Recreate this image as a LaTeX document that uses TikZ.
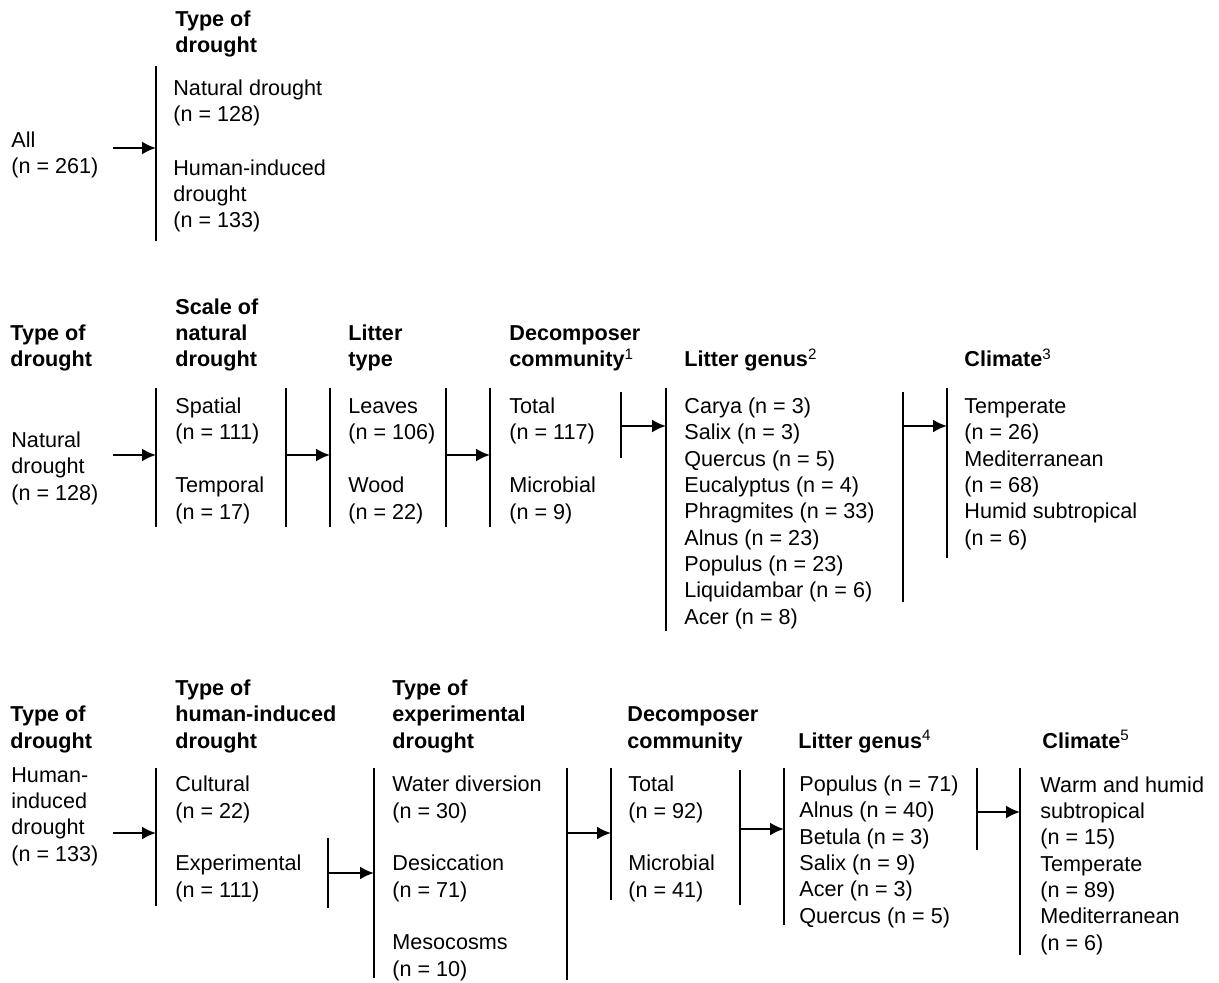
\documentclass[tikz,border=0pt]{standalone}
\usepackage{fontspec}
\setmainfont{Liberation Sans}
\usetikzlibrary{arrows.meta}

% text blocks sit on the baseline of their last line
\tikzset{
  lbl/.style={anchor=base west, inner sep=0pt, align=left,
    font=\fontsize{10.8}{13.15}\selectfont},
  hdr/.style={lbl, font=\fontsize{10.8}{13.15}\selectfont\bfseries},
  bar/.style={line width=1.1pt},
  arr/.style={line width=1.1pt, -{Latex[length=7pt,width=6.5pt]}},
}
\newcommand{\fn}[1]{\textsuperscript{\mdseries #1}}

\begin{document}
\begin{tikzpicture}[x=0.5pt,y=-0.5pt]
    \useasboundingbox (0,0) rectangle (1219,983);

    % headers
    \node[hdr] (h1)  at (175,53)  {Type of\\drought};
    \node[hdr] (h2a) at (10,367)  {Type of\\drought};
    \node[hdr] (h2b) at (175,367) {Scale of\\natural\\drought};
    \node[hdr] (h2c) at (348,367) {Litter\\type};
    \node[hdr] (h2d) at (509,367) {Decomposer\\community\fn{1}};
    \node[hdr] (h2e) at (684,367) {Litter genus\fn{2}};
    \node[hdr] (h2f) at (964,367) {Climate\fn{3}};
    \node[hdr] (h3a) at (10,748)  {Type of\\drought};
    \node[hdr] (h3b) at (175,748) {Type of\\human-induced\\drought};
    \node[hdr] (h3c) at (392,748) {Type of\\experimental\\drought};
    \node[hdr] (h3d) at (627,748) {Decomposer\\community};
    \node[hdr] (h3e) at (798,748) {Litter genus\fn{4}};
    \node[hdr] (h3f) at (1042,748) {Climate\fn{5}};

    % row 1
    \node[lbl] (all) at (11,174)  {All\\(n = 261)};
    \node[lbl] (nat) at (173,122) {Natural drought\\(n = 128)};
    \node[lbl] (hum) at (173,228) {Human-induced\\drought\\(n = 133)};

    % row 2
    \node[lbl] (natdr)  at (11,500)  {Natural\\drought\\(n = 128)};
    \node[lbl] (spat)   at (175,440) {Spatial\\(n = 111)};
    \node[lbl] (temp)   at (175,519) {Temporal\\(n = 17)};
    \node[lbl] (leaves) at (348,440) {Leaves\\(n = 106)};
    \node[lbl] (wood)   at (348,519) {Wood\\(n = 22)};
    \node[lbl] (tot1)   at (509,440) {Total\\(n = 117)};
    \node[lbl] (mic1)   at (509,519) {Microbial\\(n = 9)};
    \node[lbl] (gen1)   at (684,624) {Carya (n = 3)\\Salix (n = 3)\\Quercus (n = 5)\\
      Eucalyptus (n = 4)\\Phragmites (n = 33)\\Alnus (n = 23)\\Populus (n = 23)\\
      Liquidambar (n = 6)\\Acer (n = 8)};
    \node[lbl] (clim1)  at (964,545) {Temperate\\(n = 26)\\Mediterranean\\(n = 68)\\
      Humid subtropical\\(n = 6)};

    % row 3
    \node[lbl] (humdr) at (11,861)  {Human-\\induced\\drought\\(n = 133)};
    \node[lbl] (cult)  at (175,818) {Cultural\\(n = 22)};
    \node[lbl] (expr)  at (175,897) {Experimental\\(n = 111)};
    \node[lbl] (water) at (392,818) {Water diversion\\(n = 30)};
    \node[lbl] (desic) at (392,897) {Desiccation\\(n = 71)};
    \node[lbl] (meso)  at (392,976) {Mesocosms\\(n = 10)};
    \node[lbl] (tot2)  at (628,818) {Total\\(n = 92)};
    \node[lbl] (mic2)  at (628,897) {Microbial\\(n = 41)};
    \node[lbl] (gen2)  at (799,923) {Populus (n = 71)\\Alnus (n = 40)\\Betula (n = 3)\\
      Salix (n = 9)\\Acer (n = 3)\\Quercus (n = 5)};
    \node[lbl] (clim2) at (1040,950) {Warm and humid\\subtropical\\(n = 15)\\Temperate\\
      (n = 89)\\Mediterranean\\(n = 6)};

    % bars: name/x/top/bottom
    \foreach \nm/\xa/\ya/\yb in {%
        b1/156/66/241,
        b2/156/388/527, b3/286/388/527, b4/330/388/527, b5/446/388/527,
        b6/490/388/527, b7/621/392/458, b8/666/388/631, b9/903/392/602,
        b10/947/388/558,
        b11/156/768/906, b12/328/838/908, b13/374/768/978, b14/567/768/980,
        b15/611/768/900, b16/740/770/905, b17/784/768/925, b18/977/768/850,
        b19/1020/768/955} {
      \draw[bar] (\xa,\ya) coordinate (\nm) -- (\xa,\yb);
    }

    % arrows: start/x/y/target bar
    \foreach \nm/\xa/\ya/\tg in {%
        a1/113/148/b1,
        a2/113/455/b2, a3/286/455/b4, a4/446/455/b6, a5/621/426/b8,
        a6/903/426/b10,
        a7/113/833/b11, a8/328/873/b13, a9/567/833/b15, a10/740/829/b17,
        a11/977/812/b19} {
      \draw[arr] (\xa,\ya) coordinate (\nm) -- (\tg |- \nm);
    }
\end{tikzpicture}
\end{document}
